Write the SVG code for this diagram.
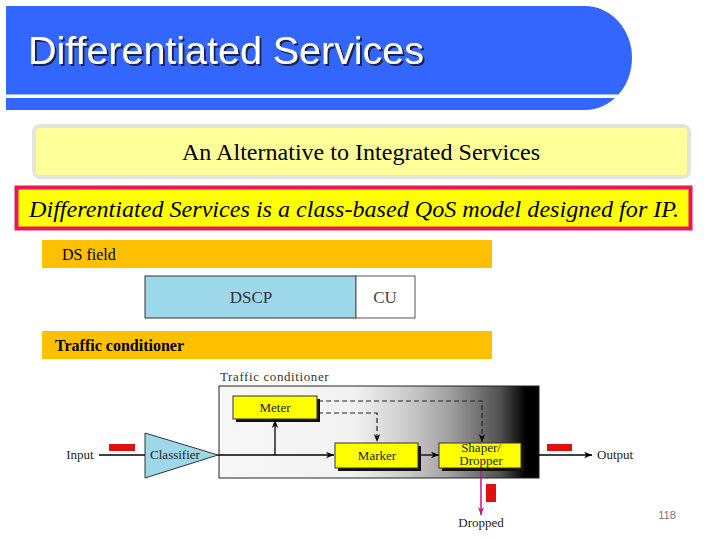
<svg xmlns="http://www.w3.org/2000/svg" width="720" height="540" viewBox="0 0 720 540">
<defs>
<style>
.serif{font-family:"Liberation Serif","Times New Roman",serif;fill:#000}
.sans{font-family:"Liberation Sans",Arial,sans-serif}
.box{fill:#FFFF00;stroke:#333;stroke-width:1}
.shadow{fill:#111}
.lbl{font-family:"Liberation Serif","Times New Roman",serif;font-size:13px;fill:#222}
.mid{text-anchor:middle}
.ln{stroke:#000;stroke-width:1.3;fill:none}
.dash{stroke:#222;stroke-width:1.2;fill:none;stroke-dasharray:5 3}
</style>
<filter id="ts" x="-5%" y="-20%" width="110%" height="150%">
<feDropShadow dx="2" dy="2" stdDeviation="0.6" flood-color="#1a2450" flood-opacity="1"/>
</filter>
<linearGradient id="grad" gradientUnits="userSpaceOnUse" x1="219" y1="0" x2="539" y2="0">
<stop offset="0" stop-color="#F7F7F7"/>
<stop offset="0.42" stop-color="#F2F2F2"/>
<stop offset="0.6" stop-color="#C8C8C8"/>
<stop offset="0.72" stop-color="#A0A0A0"/>
<stop offset="0.88" stop-color="#505050"/>
<stop offset="0.96" stop-color="#000"/>
<stop offset="1" stop-color="#000"/>
</linearGradient>
<marker id="arr" viewBox="0 0 10 10" refX="10" refY="5" markerWidth="8" markerHeight="8" orient="auto" markerUnits="userSpaceOnUse">
<path d="M0,1 L10,5 L0,9 L3,5 Z" fill="#000"/>
</marker>
<marker id="arrm" viewBox="0 0 10 10" refX="10" refY="5" markerWidth="8" markerHeight="8" orient="auto" markerUnits="userSpaceOnUse">
<path d="M0,1 L10,5 L0,9 L3,5 Z" fill="#C0168C"/>
</marker>
</defs>
<rect width="720" height="540" fill="#fff"/>

<g id="header">
<path d="M6,6 H585 A47,52 0 0 1 585,110 H6 Z" fill="#3366FF"/>
<rect x="0" y="94.5" width="640" height="3.5" fill="#fff"/>
<text class="sans" x="28" y="64" font-size="38" fill="#fff" filter="url(#ts)" textLength="396" lengthAdjust="spacingAndGlyphs">Differentiated Services</text>
</g>

<g id="subtitle">
<rect x="34" y="126" width="655" height="51" rx="6" fill="#FFFF99" stroke="#E4E4DC" stroke-width="4"/>
<text class="serif mid" x="361" y="160" font-size="24" textLength="358" lengthAdjust="spacingAndGlyphs">An Alternative to Integrated Services</text>
</g>

<g id="definition">
<rect x="16.5" y="187.5" width="674" height="41" fill="#FFFF00" stroke="#E8175D" stroke-width="4"/>
<text class="serif" x="29" y="217" font-size="23" font-style="italic" textLength="650" lengthAdjust="spacingAndGlyphs">Differentiated Services is a class-based QoS model designed for IP.</text>
</g>

<g id="dsfield">
<rect x="42" y="240" width="450" height="28" fill="#FFC000"/>
<text class="serif" x="62" y="260" font-size="16">DS field</text>
</g>

<g id="dscp">
<rect x="145" y="276" width="211" height="42" fill="#9DD8EA" stroke="#333" stroke-width="1"/>
<text class="serif mid" x="251" y="303" font-size="17" style="fill:#333">DSCP</text>
</g>
<g id="cu">
<rect x="356" y="276" width="59" height="42" fill="#fff" stroke="#555" stroke-width="1"/>
<text class="serif mid" x="385" y="303" font-size="17" style="fill:#444">CU</text>
</g>

<g id="tcbar">
<rect x="42" y="331" width="450" height="28" fill="#FFC000"/>
<text class="serif" x="55" y="351" font-size="16" font-weight="bold">Traffic conditioner</text>
</g>

<g id="tcbox">
<text class="serif" x="220" y="381" font-size="13" letter-spacing="0.6" style="fill:#333">Traffic conditioner</text>
<rect x="219" y="386" width="320" height="92" fill="url(#grad)" stroke="#222" stroke-width="1"/>
</g>

<g id="connectors">
<line class="ln" x1="99" y1="455" x2="145" y2="455"/>
<line class="ln" x1="218" y1="455" x2="334" y2="455" marker-end="url(#arr)"/>
<line class="ln" x1="275" y1="455" x2="275" y2="420" marker-end="url(#arr)"/>
<line class="ln" x1="419" y1="455" x2="439" y2="455" marker-end="url(#arr)"/>
<line class="ln" x1="523" y1="455" x2="592" y2="455" marker-end="url(#arr)"/>
<path class="dash" d="M318,401 H482 V442" marker-end="url(#arr)"/>
<path class="dash" d="M318,413 H377 V442" marker-end="url(#arr)"/>
<line x1="481" y1="469" x2="481" y2="515" stroke="#C0168C" stroke-width="1.5" marker-end="url(#arrm)"/>
</g>

<g id="input">
<text class="lbl mid" x="80" y="459">Input</text>
<rect x="109" y="444" width="26" height="7" fill="#E01010"/>
</g>

<g id="classifier">
<polygon points="145,433 145,478 218,455" fill="#9DD8EA" stroke="#333" stroke-width="1"/>
<text class="lbl mid" x="175" y="459" font-size="12">Classifier</text>
</g>

<g id="meter">
<rect x="236" y="399" width="84" height="23" class="shadow"/>
<rect x="233" y="396" width="84" height="23" class="box"/>
<text class="lbl mid" x="275" y="412">Meter</text>
</g>

<g id="marker">
<rect x="338" y="446" width="83" height="25" class="shadow"/>
<rect x="335" y="443" width="83" height="25" class="box"/>
<text class="lbl mid" x="377" y="460">Marker</text>
</g>

<g id="shaper">
<rect x="442" y="446" width="82" height="25" class="shadow"/>
<rect x="439" y="443" width="82" height="25" class="box"/>
<text class="lbl mid" x="481" y="451.5" font-size="10">Shaper/</text>
<text class="lbl mid" x="481" y="465" font-size="10">Dropper</text>
</g>

<g id="output">
<rect x="547" y="444" width="25" height="7" fill="#E01010"/>
<text class="lbl" x="597" y="459">Output</text>
</g>

<g id="dropped">
<rect x="486" y="484" width="10" height="18" fill="#E01010"/>
<text class="lbl mid" x="481" y="527">Dropped</text>
</g>

<text class="sans" x="667" y="519" font-size="11" fill="#777" text-anchor="middle">118</text>
</svg>
